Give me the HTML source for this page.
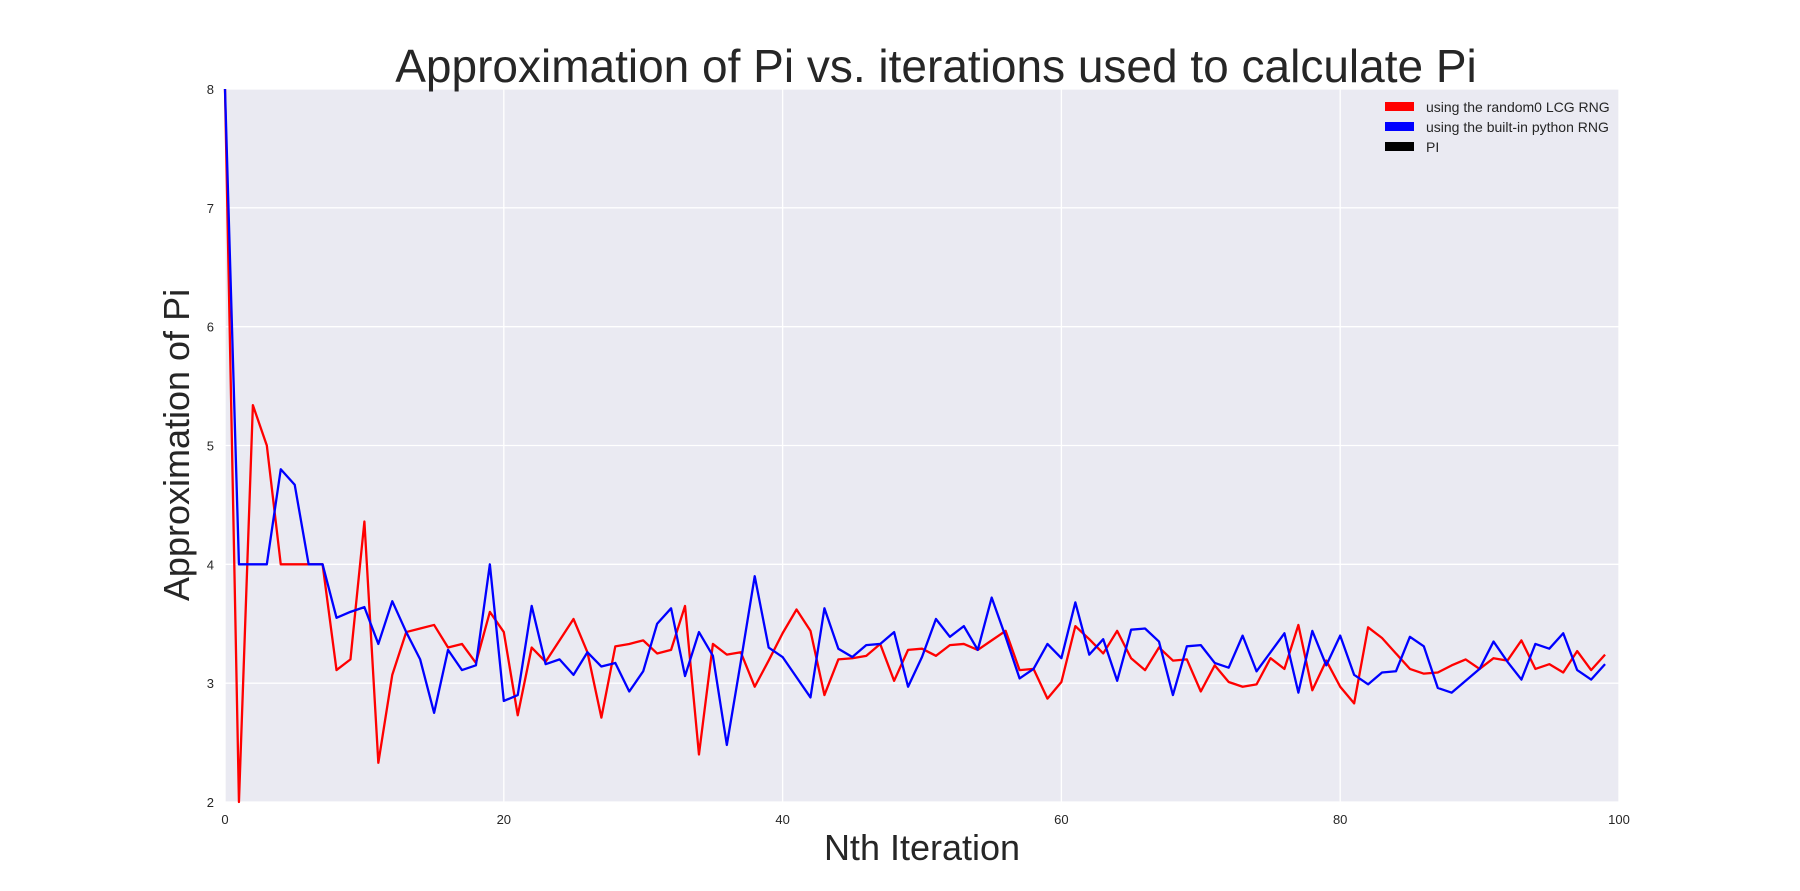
<!DOCTYPE html>
<html><head><meta charset="utf-8"><style>
body{margin:0;background:#fff;}
svg{display:block;font-family:"Liberation Sans",Arial,sans-serif;}
</style></head><body>
<svg id="chart" width="1800" height="891" viewBox="0 0 1800 891" xmlns="http://www.w3.org/2000/svg">
<rect x="225" y="89" width="1394" height="713" fill="#EAEAF2"/>
<g id="grid"></g>
<g id="ticks" fill="#262626" font-size="13"></g>
<g id="series"></g>
<text x="936" y="82" font-size="46" text-anchor="middle" fill="#262626">Approximation of Pi vs. iterations used to calculate Pi</text>
<text x="922" y="860" font-size="36" text-anchor="middle" fill="#262626">Nth Iteration</text>
<text x="189" y="445" font-size="36" text-anchor="middle" fill="#262626" transform="rotate(-90 189 445)">Approximation of Pi</text>
<g font-size="14" fill="#262626">
<rect x="1385" y="102" width="29" height="9" fill="#ff0000"/>
<text x="1426" y="112">using the random0 LCG RNG</text>
<rect x="1385" y="122" width="29" height="9" fill="#0000ff"/>
<text x="1426" y="132">using the built-in python RNG</text>
<rect x="1385" y="142" width="29" height="9" fill="#000"/>
<text x="1426" y="152">PI</text>
</g>
</svg>
<script>
const xTicks = [0, 20, 40, 60, 80, 100];
const yTicks = [2, 3, 4, 5, 6, 7, 8];
const lcgValues = [8,2,5.34,5.0,4,4,4,4,3.11,3.2,4.36,2.33,3.07,3.43,3.46,3.49,3.3,3.33,3.17,3.6,
3.43,2.73,3.30,3.18,3.36,3.54,3.26,2.71,3.31,3.33,3.36,3.25,3.28,3.65,2.40,3.33,3.24,3.26,2.97,3.19,
3.42,3.62,3.44,2.90,3.2,3.21,3.23,3.33,3.02,3.28,3.29,3.23,3.32,3.33,3.28,3.36,3.44,3.11,3.12,2.87,
3.01,3.48,3.37,3.25,3.44,3.21,3.11,3.30,3.19,3.20,2.93,3.15,3.01,2.97,2.99,3.21,3.12,3.49,2.94,3.19,
2.97,2.83,3.47,3.38,3.25,3.12,3.08,3.09,3.15,3.20,3.12,3.21,3.19,3.36,3.12,3.16,3.09,3.27,3.11,3.24];
const pythonValues = [8,4,4,4,4.8,4.67,4,4,3.55,3.6,3.64,3.33,3.69,3.43,3.2,2.75,3.28,3.11,3.15,4.0,
2.85,2.90,3.65,3.16,3.20,3.07,3.26,3.14,3.17,2.93,3.10,3.50,3.63,3.06,3.43,3.23,2.48,3.18,3.90,3.30,
3.22,3.05,2.88,3.63,3.29,3.22,3.32,3.33,3.43,2.97,3.22,3.54,3.39,3.48,3.28,3.72,3.39,3.04,3.12,3.33,
3.21,3.68,3.24,3.37,3.02,3.45,3.46,3.35,2.90,3.31,3.32,3.17,3.13,3.40,3.10,3.26,3.42,2.92,3.44,3.15,
3.40,3.07,2.99,3.09,3.10,3.39,3.31,2.96,2.92,3.02,3.12,3.35,3.18,3.03,3.33,3.29,3.42,3.11,3.03,3.16];

const NS = 'http://www.w3.org/2000/svg';
const X0 = 225, X1 = 1619, Y0 = 802, Y1 = 89;
function xScale(v){ return X0 + (v - 0) / 100 * (X1 - X0); }
function yScale(v){ return Y0 - (v - 2) / 6 * (Y0 - Y1); }
const grid = document.getElementById('grid');
const ticks = document.getElementById('ticks');
const series = document.getElementById('series');

xTicks.forEach(t => {
  const l = document.createElementNS(NS, 'line');
  
  
  l.setAttribute('x1', xScale(t)); l.setAttribute('x2', xScale(t));
  l.setAttribute('y1', Y1); l.setAttribute('y2', Y0);
  l.setAttribute('stroke', '#fff'); l.setAttribute('stroke-width', '1.3');
  grid.appendChild(l);
  const tx = document.createElementNS(NS, 'text');
  
  
  tx.setAttribute('x', xScale(t)); tx.setAttribute('y', Y0 + 22);
  tx.setAttribute('text-anchor', 'middle');
  tx.textContent = t;
  ticks.appendChild(tx);
});
yTicks.forEach(t => {
  const l = document.createElementNS(NS, 'line');
  
  
  l.setAttribute('x1', X0); l.setAttribute('x2', X1);
  l.setAttribute('y1', yScale(t)); l.setAttribute('y2', yScale(t));
  l.setAttribute('stroke', '#fff'); l.setAttribute('stroke-width', '1.3');
  grid.appendChild(l);
  const tx = document.createElementNS(NS, 'text');
  
  
  tx.setAttribute('x', X0 - 11); tx.setAttribute('y', yScale(t) + 5);
  tx.setAttribute('text-anchor', 'end');
  tx.textContent = t;
  ticks.appendChild(tx);
});
function drawLine(vals, color, name){
  const p = document.createElementNS(NS, 'polyline');
  
  
  p.setAttribute('points', vals.map((v, i) => xScale(i) + ',' + yScale(v)).join(' '));
  p.setAttribute('fill', 'none'); p.setAttribute('stroke', color);
  p.setAttribute('stroke-width', '2.3'); p.setAttribute('stroke-linejoin', 'round');
  series.appendChild(p);
}
drawLine(lcgValues, '#ff0000', 'lcg-series-line');
drawLine(pythonValues, '#0000ff', 'python-series-line');
</script>
</body></html>
